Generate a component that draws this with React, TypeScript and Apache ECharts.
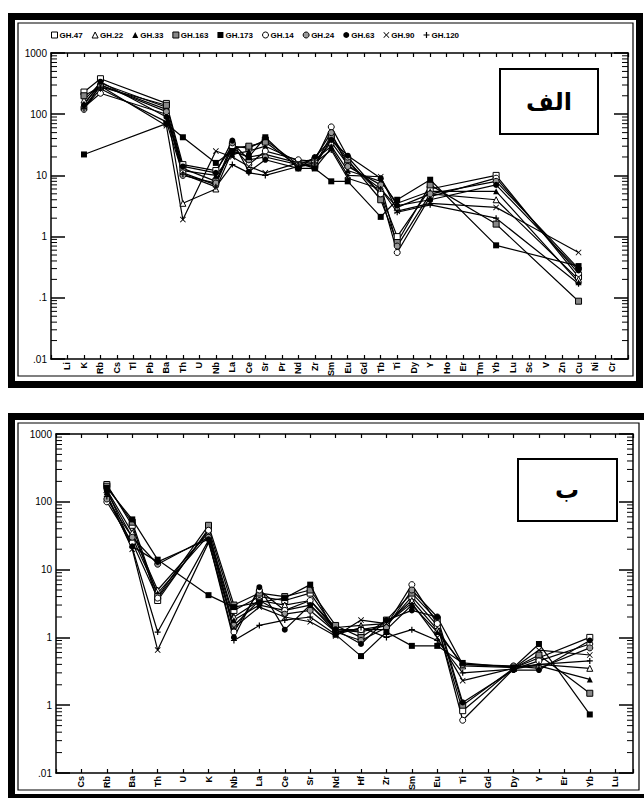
import React, { useEffect, useRef } from "react";
import * as echarts from "echarts";

// ---------- categories ----------
const topCats = ["Li","K","Rb","Cs","Tl","Pb","Ba","Th","U","Nb","La","Ce","Sr","Pr","Nd","Zr","Sm","Eu","Gd","Tb","Ti","Dy","Y","Ho","Er","Tm","Yb","Lu","Sc","V","Zn","Cu","Ni","Cr"];
const topElems = ["K","Rb","Ba","Th","Nb","La","Ce","Sr","Nd","Zr","Sm","Eu","Tb","Ti","Y","Yb","Cu"];
const botCats = ["Cs","Rb","Ba","Th","U","K","Nb","La","Ce","Sr","Nd","Hf","Zr","Sm","Eu","Ti","Gd","Dy","Y","Er","Yb","Lu"];
const botElems = ["Rb","Ba","Th","K","Nb","La","Ce","Sr","Nd","Hf","Zr","Sm","Eu","Ti","Dy","Y","Yb"];

const samples = ["GH.47","GH.22","GH.33","GH.163","GH.173","GH.14","GH.24","GH.63","GH.90","GH.120"];

// ---------- panel "الف" values (order = topElems) ----------
const topGH47  = [230, 380, 150, 15, 12, 30, 28, 38, 15, 14, 40, 17, 5, 1.0, 6, 10, 0.22];
const topGH22  = [170, 320, 130, 3.5, 6, 25, 20, 22, 16, 16, 35, 15, 6, 3.0, 5, 4, 0.2];
const topGH33  = [150, 300, 120, 12, 10, 22, 25, 30, 17, 18, 30, 12, 8, 3.5, 5.5, 5.5, 0.18];
const topGH163 = [200, 280, 140, 13, 8, 28, 30, 35, 14, 15, 45, 18, 4, 0.8, 7, 1.6, 0.088];
const topGH173 = [22, null, 70, 42, 16, 25, 20, 42, 13, 13, 8, 8, 2.1, 4.0, 8.5, 0.72, 0.33];
const topGH14  = [130, 220, 100, 11, 7, 30, 15, 25, 18, 17, 62, 20, 5, 0.55, 4.5, 9, 0.25];
const topGH24  = [120, 300, 110, 10, 7.5, 34, 18, 20, 15, 19, 50, 14, 7, 0.7, 5, 8, 0.3];
const topGH63  = [140, 340, 90, 14, 11, 37, 11.5, 18, 13, 20, 38, 21, 9, 3.2, 4, 7, 0.28];
const topGH90  = [130, 290, 65, 1.9, 25, 20, 14, 11, 16, 13, 28, 10, 9.5, 2.6, 3.5, 3, 0.55];
const topGH120 = [125, 260, 75, 10.5, 6.5, 15, 11, 10, 14, 16, 26, 9, 6, 2.5, 3.3, 2, 0.17];

// ---------- panel "ب" values (order = botElems) ----------
const botGH47  = [180, 45, 3.5, 40, 2.5, 4, 3.5, 4.5, 1.3, 1.2, 1.5, 4, 1.5, 0.083, 0.35, 0.5, 1.0];
const botGH22  = [150, 35, 5, 35, 2, 3.5, 3, 3.5, 1.4, 1.5, 1.6, 3.5, 1.3, 0.38, 0.36, 0.4, 0.35];
const botGH33  = [140, 30, 4.5, 32, 1.8, 3, 2.5, 3, 1.2, 1.3, 1.3, 3, 1.2, 0.4, 0.37, 0.38, 0.24];
const botGH163 = [170, 50, 4, 45, 3, 4.5, 4, 5, 1.5, 1.0, 1.8, 4.5, 1.8, 0.1, 0.35, 0.55, 0.15];
const botGH173 = [160, 55, 14, 4.2, 2.8, 3.3, 3.8, 6, 1.1, 0.53, 1.2, 0.75, 0.75, 0.42, 0.36, 0.8, 0.073];
const botGH14  = [100, 25, 3.8, 38, 1.2, 5, 2.5, 3.5, 1.3, 1.3, 1.5, 6, 1.6, 0.06, 0.34, 0.45, 0.8];
const botGH24  = [110, 30, 12, 30, 1.5, 3.5, 2.2, 2.5, 1.2, 0.9, 1.4, 5, 2.0, 0.4, 0.38, 0.35, 0.7];
const botGH63  = [150, 22, 13, 28, 1.0, 5.5, 1.3, 3, 1.3, 0.8, 1.8, 2.5, 2.0, 0.11, 0.33, 0.33, 0.9];
const botGH90  = [130, 20, 0.65, 25, 1.4, 2.8, 2, 1.7, 1.05, 1.8, 1.6, 3.2, 1.0, 0.23, 0.35, 0.65, 0.55];
const botGH120 = [120, 21, 1.2, 27, 0.9, 1.5, 1.8, 2, 1.1, 1.4, 1.0, 1.3, 0.9, 0.3, 0.34, 0.4, 0.45];

const topValues = [topGH47, topGH22, topGH33, topGH163, topGH173, topGH14, topGH24, topGH63, topGH90, topGH120];
const botValues = [botGH47, botGH22, botGH33, botGH163, botGH173, botGH14, botGH24, botGH63, botGH90, botGH120];

const topYLabels: Record<string, string> = { "3": "1000", "2": "100", "1": "10", "0": "1", "-1": ".1", "-2": ".01" };
const botYLabels: Record<string, string> = { "3": "1000", "2": "100", "1": "10", "0": "1", "-1": "1", "-2": ".01" };

// ---------- styles ----------
const CROSS = "path://M1,0L5,4L9,0L10,1L6,5L10,9L9,10L5,6L1,10L0,9L4,5L0,1Z";
const PLUS = "path://M4,0H6V4H10V6H6V10H4V6H0V4H4Z";
const symbolStyles = [
  { symbol: "rect", fill: "#fff" },
  { symbol: "triangle", fill: "#fff" },
  { symbol: "triangle", fill: "#000" },
  { symbol: "rect", fill: "#888" },
  { symbol: "rect", fill: "#000" },
  { symbol: "circle", fill: "#fff" },
  { symbol: "circle", fill: "#999" },
  { symbol: "circle", fill: "#000" },
  { symbol: CROSS, fill: "#000" },
  { symbol: PLUS, fill: "#000" },
];

const FONT = "Liberation Sans";

function buildMinorTicks() {
  const out: number[][] = [];
  for (let e = -2; e < 3; e++) {
    for (let m = 2; m <= 9; m++) out.push([0, m * Math.pow(10, e)]);
  }
  return out;
}

function minorTickSeries(idx: number) {
  return {
    type: "custom",
    xAxisIndex: idx * 2,
    yAxisIndex: idx * 2,
    silent: true,
    clip: false,
    z: 1,
    data: buildMinorTicks(),
    renderItem: (params: any, api: any) => {
      const y = api.coord([api.value(0), api.value(1)])[1];
      const cs = params.coordSys;
      return {
        type: "group",
        children: [
          { type: "line", shape: { x1: cs.x, y1: y, x2: cs.x + 6, y2: y }, style: { stroke: "#000", lineWidth: 1 } },
          { type: "line", shape: { x1: cs.x + cs.width - 6, y1: y, x2: cs.x + cs.width, y2: y }, style: { stroke: "#000", lineWidth: 1 } },
        ],
      };
    },
  };
}

function xAxes(grid: number, cats: string[], max: number) {
  const base = {
    gridIndex: grid,
    type: "value",
    min: -1,
    max,
    interval: 1,
    splitLine: { show: false },
    axisLine: { show: true, onZero: false, lineStyle: { color: "#000", width: 1.5 } },
    axisTick: { show: true, inside: true, length: 4, lineStyle: { color: "#000", width: 1.2 } },
  };
  return [
    {
      ...base,
      position: "bottom",
      axisLabel: {
        rotate: 90,
        fontSize: 9,
        fontWeight: "bold",
        fontFamily: FONT,
        color: "#000",
        margin: 3,
        formatter: (v: number) => (Number.isInteger(v) && cats[v] ? cats[v] : ""),
      },
    },
    { ...base, position: "top", axisLabel: { show: false } },
  ];
}

function yAxes(grid: number, labels: Record<string, string>) {
  const base = {
    gridIndex: grid,
    type: "log",
    logBase: 10,
    min: 0.01,
    max: 1000,
    splitNumber: 5,
    splitLine: { show: false },
    axisLine: { show: true, onZero: false, lineStyle: { color: "#000", width: 1.5 } },
    axisTick: { show: true, inside: true, length: 14, lineStyle: { color: "#000", width: 1.5 } },
  };
  return [
    {
      ...base,
      position: "left",
      axisLabel: {
        fontSize: 10,
        fontFamily: FONT,
        color: "#000",
        margin: 4,
        formatter: (v: number) => labels[String(Math.round(Math.log10(v)))] ?? "",
      },
    },
    { ...base, position: "right", axisLabel: { show: false } },
  ];
}

function dataSeries(grid: number, cats: string[], elems: string[], values: (number | null)[][]) {
  return samples.map((name, i) => {
    const st = symbolStyles[i];
    const data: number[][] = [];
    elems.forEach((el, j) => {
      const v = values[i][j];
      if (v !== null && v !== undefined) data.push([cats.indexOf(el), v]);
    });
    return {
      name,
      type: "line",
      xAxisIndex: grid * 2,
      yAxisIndex: grid * 2,
      data,
      symbol: st.symbol,
      symbolSize: 6,
      showSymbol: true,
      z: 3 + (i === 4 ? 1 : 0),
      lineStyle: { color: "#000", width: 1.2 },
      itemStyle: { color: st.fill, borderColor: "#000", borderWidth: st.fill === "#000" ? 0 : 1 },
      emphasis: { disabled: true },
    };
  });
}

export default function App() {
  const ref = useRef<HTMLDivElement>(null);
  useEffect(() => {
    if (!ref.current) return;
    const chart = echarts.init(ref.current, undefined, { renderer: "svg" });
    const option: any = {
      animation: false,
      backgroundColor: "#fff",
      textStyle: { fontFamily: FONT },
      legend: {
        left: 46,
        top: 26,
        itemWidth: 6,
        itemHeight: 6,
        itemGap: 9,
        selectedMode: false,
        textStyle: { fontSize: 8, fontWeight: "bold", color: "#000", fontFamily: FONT, padding: [0, 0, 0, -3] },
        data: samples.map((name, i) => ({
          name,
          icon: symbolStyles[i].symbol,
          itemStyle: {
            color: symbolStyles[i].fill,
            borderColor: "#000",
            borderWidth: symbolStyles[i].fill === "#000" ? 0 : 1,
          },
          textStyle: { color: "#000" },
        })),
      },
      grid: [
        { left: 51, top: 53, width: 577, height: 306 },
        { left: 56, top: 434, width: 577, height: 339 },
      ],
      xAxis: [...xAxes(0, topCats, 34), ...xAxes(1, botCats, 21.7)],
      yAxis: [...yAxes(0, topYLabels), ...yAxes(1, botYLabels)],
      series: [
        minorTickSeries(0),
        minorTickSeries(1),
        ...dataSeries(0, topCats, topElems, topValues),
        ...dataSeries(1, botCats, botElems, botValues),
      ],
      graphic: [
        // top panel frame
        { type: "rect", silent: true, shape: { x: 11.5, y: 16.5, width: 628, height: 368 }, style: { fill: "none", stroke: "#000", lineWidth: 7 } },
        { type: "rect", silent: true, shape: { x: 18, y: 23, width: 615, height: 353 }, style: { fill: "none", stroke: "#000", lineWidth: 1.2 } },
        // bottom panel frame
        { type: "rect", silent: true, shape: { x: 11.5, y: 416.5, width: 637, height: 381 }, style: { fill: "none", stroke: "#000", lineWidth: 7 } },
        { type: "rect", silent: true, shape: { x: 18, y: 423, width: 621, height: 367 }, style: { fill: "none", stroke: "#000", lineWidth: 1.2 } },
        // label boxes
        { type: "rect", silent: true, z: 10, shape: { x: 500, y: 69, width: 98, height: 65 }, style: { fill: "#fff", stroke: "#000", lineWidth: 2 } },
        { type: "text", silent: true, z: 11, x: 549, y: 102, style: { text: "الف", fontSize: 24, fontWeight: "bold", fontFamily: "DejaVu Sans", fill: "#000", align: "center", verticalAlign: "middle" } },
        { type: "rect", silent: true, z: 10, shape: { x: 518, y: 459, width: 99, height: 62 }, style: { fill: "#fff", stroke: "#000", lineWidth: 2 } },
        { type: "text", silent: true, z: 11, x: 567, y: 490, style: { text: "ب", fontSize: 24, fontWeight: "bold", fontFamily: "DejaVu Sans", fill: "#000", align: "center", verticalAlign: "middle" } },
      ],
    };
    chart.setOption(option);
    return () => chart.dispose();
  }, []);
  return <div ref={ref} style={{ position: "absolute", left: 0, top: 0, width: 644, height: 798 }} />;
}
